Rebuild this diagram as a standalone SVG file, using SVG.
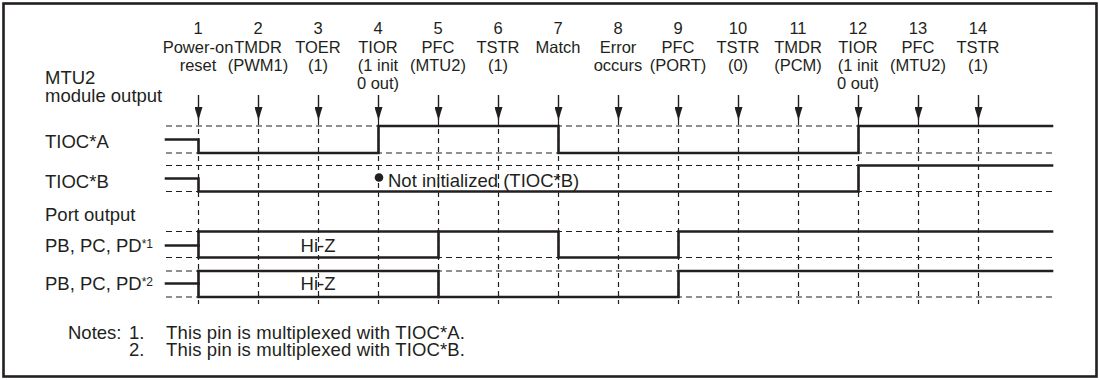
<svg xmlns="http://www.w3.org/2000/svg" width="1100" height="380" viewBox="0 0 1100 380">
<defs>
<style>
text{font-family:"Liberation Sans",Arial,Helvetica,sans-serif;fill:#231f20}
.h{font-size:16.5px;text-anchor:middle}
.b{font-size:18.5px}
.n{font-size:18.5px}
.sup{font-size:12px}
.sig{fill:none;stroke:#231f20;stroke-width:2.6;stroke-linejoin:miter;stroke-linecap:square}
.ref{fill:none;stroke:#231f20;stroke-width:1.2;stroke-dasharray:6 4}
.vd{fill:none;stroke:#231f20;stroke-width:1.2;stroke-dasharray:5 4}
.arr{stroke:#231f20;stroke-width:1.4}
</style>
<marker id="ah" viewBox="0 -4 13 8" refX="13" refY="0" markerWidth="13" markerHeight="8" markerUnits="userSpaceOnUse" orient="auto">
<path d="M0,-4 L13,0 L0,4 z" fill="#231f20"/>
</marker>
</defs>
<rect x="3.5" y="3.5" width="1093" height="373" fill="#fff" stroke="#231f20" stroke-width="2.6"/>

<g id="labels">
<text class="b" x="45" y="83.5">MTU2</text>
<text class="b" x="45" y="101.5">module output</text>
<text class="b" x="45" y="148">TIOC*A</text>
<text class="b" x="45" y="188">TIOC*B</text>
<text class="b" x="45" y="221">Port output</text>
<text class="b" x="45" y="251.5">PB, PC, PD<tspan class="sup" dy="-4">*1</tspan></text>
<text class="b" x="45" y="290">PB, PC, PD<tspan class="sup" dy="-4">*2</tspan></text>
</g>

<g id="ev1"><text class="h" x="198" y="34">1</text><text class="h" x="198" y="52.5">Power-on</text><text class="h" x="198" y="70.5">reset</text></g>
<g id="ev2"><text class="h" x="258" y="34">2</text><text class="h" x="258" y="52.5">TMDR</text><text class="h" x="258" y="70.5">(PWM1)</text></g>
<g id="ev3"><text class="h" x="318" y="34">3</text><text class="h" x="318" y="52.5">TOER</text><text class="h" x="318" y="70.5">(1)</text></g>
<g id="ev4"><text class="h" x="378" y="34">4</text><text class="h" x="378" y="52.5">TIOR</text><text class="h" x="378" y="70.5">(1 init</text><text class="h" x="378" y="88.5">0 out)</text></g>
<g id="ev5"><text class="h" x="438" y="34">5</text><text class="h" x="438" y="52.5">PFC</text><text class="h" x="438" y="70.5">(MTU2)</text></g>
<g id="ev6"><text class="h" x="498" y="34">6</text><text class="h" x="498" y="52.5">TSTR</text><text class="h" x="498" y="70.5">(1)</text></g>
<g id="ev7"><text class="h" x="558" y="34">7</text><text class="h" x="558" y="52.5">Match</text></g>
<g id="ev8"><text class="h" x="618" y="34">8</text><text class="h" x="618" y="52.5">Error</text><text class="h" x="618" y="70.5">occurs</text></g>
<g id="ev9"><text class="h" x="678" y="34">9</text><text class="h" x="678" y="52.5">PFC</text><text class="h" x="678" y="70.5">(PORT)</text></g>
<g id="ev10"><text class="h" x="738" y="34">10</text><text class="h" x="738" y="52.5">TSTR</text><text class="h" x="738" y="70.5">(0)</text></g>
<g id="ev11"><text class="h" x="798" y="34">11</text><text class="h" x="798" y="52.5">TMDR</text><text class="h" x="798" y="70.5">(PCM)</text></g>
<g id="ev12"><text class="h" x="858" y="34">12</text><text class="h" x="858" y="52.5">TIOR</text><text class="h" x="858" y="70.5">(1 init</text><text class="h" x="858" y="88.5">0 out)</text></g>
<g id="ev13"><text class="h" x="918" y="34">13</text><text class="h" x="918" y="52.5">PFC</text><text class="h" x="918" y="70.5">(MTU2)</text></g>
<g id="ev14"><text class="h" x="978" y="34">14</text><text class="h" x="978" y="52.5">TSTR</text><text class="h" x="978" y="70.5">(1)</text></g>

<g id="gridlines">
<path class="ref" d="M166,126H1052M166,153H1052M166,165.5H1052M166,191.5H1052M166,231.5H1052M166,257.5H1052M166,271H1052M166,297H1052"/>
<path class="vd" d="M198.5,120V304M258.5,120V304M318.5,120V304M378.5,120V304M438.5,120V304M498.5,120V304M558.5,120V304M618.5,120V304M678.5,120V304M738.5,120V304M798.5,120V304M858.5,120V304M918.5,120V304M978.5,120V304"/>
</g>

<g id="connectors">
<line class="arr" x1="198.5" y1="95" x2="198.5" y2="120" marker-end="url(#ah)"/>
<line class="arr" x1="258.5" y1="95" x2="258.5" y2="120" marker-end="url(#ah)"/>
<line class="arr" x1="318.5" y1="95" x2="318.5" y2="120" marker-end="url(#ah)"/>
<line class="arr" x1="378.5" y1="95" x2="378.5" y2="120" marker-end="url(#ah)"/>
<line class="arr" x1="438.5" y1="95" x2="438.5" y2="120" marker-end="url(#ah)"/>
<line class="arr" x1="498.5" y1="95" x2="498.5" y2="120" marker-end="url(#ah)"/>
<line class="arr" x1="558.5" y1="95" x2="558.5" y2="120" marker-end="url(#ah)"/>
<line class="arr" x1="618.5" y1="95" x2="618.5" y2="120" marker-end="url(#ah)"/>
<line class="arr" x1="678.5" y1="95" x2="678.5" y2="120" marker-end="url(#ah)"/>
<line class="arr" x1="738.5" y1="95" x2="738.5" y2="120" marker-end="url(#ah)"/>
<line class="arr" x1="798.5" y1="95" x2="798.5" y2="120" marker-end="url(#ah)"/>
<line class="arr" x1="858.5" y1="95" x2="858.5" y2="120" marker-end="url(#ah)"/>
<line class="arr" x1="918.5" y1="95" x2="918.5" y2="120" marker-end="url(#ah)"/>
<line class="arr" x1="978.5" y1="95" x2="978.5" y2="120" marker-end="url(#ah)"/>
</g>

<g id="tiocA">
<path class="sig" d="M166,139.5H198.5V153H378.5V126H558.5V153H858.5V126H1052"/>
</g>
<g id="tiocB">
<path class="sig" d="M166,178.5H198.5V191.5H858.5V165.5H1052"/>
<circle cx="379" cy="177.5" r="4.3" fill="#231f20"/>
<text class="b" x="388" y="186.5">Not initialized (TIOC*B)</text>
</g>
<g id="port1">
<path class="sig" d="M166,245.5H198.5"/>
<path class="sig" d="M198.5,231.5V257.5H438.5V231.5"/>
<path class="sig" d="M198.5,231.5H558.5V257.5H678.5V231.5H1052"/>
<text class="b" x="318" y="252" text-anchor="middle">Hi-Z</text>
</g>
<g id="port2">
<path class="sig" d="M166,283.5H198.5"/>
<path class="sig" d="M198.5,271H438.5V297"/>
<path class="sig" d="M198.5,271V297H678.5V271H1052"/>
<text class="b" x="318" y="290" text-anchor="middle">Hi-Z</text>
</g>

<g id="notes">
<text class="n" x="68" y="338.5">Notes:</text>
<text class="n" x="129" y="338.5">1.</text>
<text class="n" x="166" y="338.5" textLength="299" lengthAdjust="spacing">This pin is multiplexed with TIOC*A.</text>
<text class="n" x="129" y="356">2.</text>
<text class="n" x="166" y="356" textLength="299" lengthAdjust="spacing">This pin is multiplexed with TIOC*B.</text>
</g>
</svg>
